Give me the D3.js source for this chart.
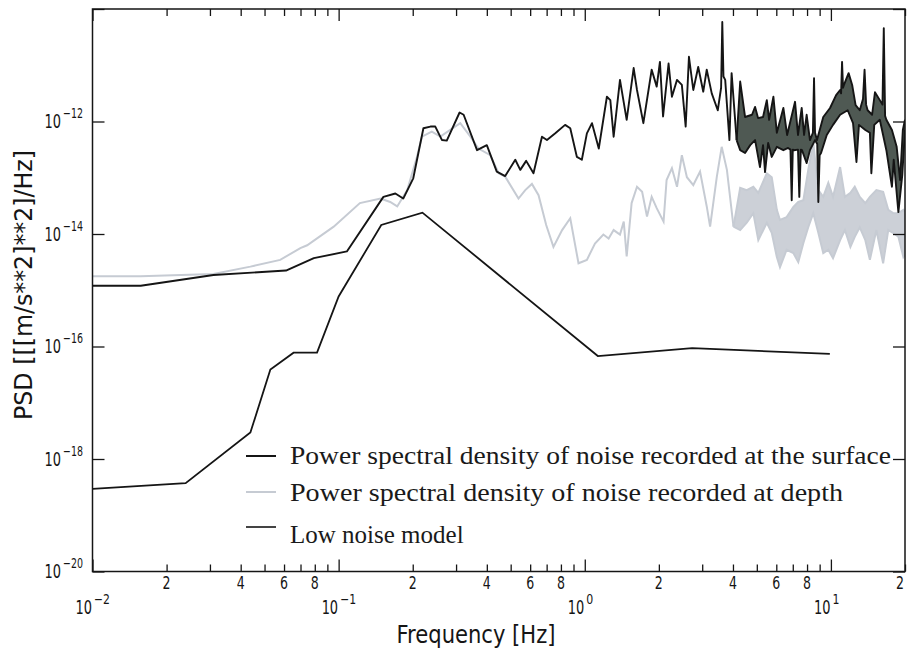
<!DOCTYPE html>
<html><head><meta charset="utf-8">
<script src="https://cdn.jsdelivr.net/npm/d3@7"></script>
<style>body{margin:0;background:#fff}svg{display:block}</style>
</head><body><svg id="c" width="907" height="654"></svg>
<script>
// data: [frequency Hz, log10 PSD]
const lowNoiseModel = [[0.01,-18.53],[0.0239,-18.43],[0.0438,-17.53],[0.0528,-16.41],[0.0656,-16.11],[0.0817,-16.11],[0.1,-15.11],[0.149,-13.84],[0.219,-13.62],[1.13,-16.17],[2.73,-16.03],[9.9,-16.13]];

const surfacePSD = [[0.01,-14.92],[0.0157,-14.92],[0.031,-14.73],[0.0611,-14.65],[0.0793,-14.43],[0.108,-14.31],[0.152,-13.34],[0.170,-13.28],[0.183,-13.37],[0.201,-13.01],[0.221,-12.12],[0.236,-12.09],[0.247,-12.09],[0.263,-12.33],[0.275,-12.34],[0.310,-11.84],[0.322,-11.88],[0.365,-12.51],[0.400,-12.42],[0.439,-12.89],[0.475,-12.97],[0.522,-12.68],[0.547,-12.86],[0.578,-12.70],[0.619,-12.92],[0.670,-12.27],[0.702,-12.33],[0.759,-12.21],[0.832,-12.06],[0.873,-12.12],[0.929,-12.63],[0.973,-12.68],[1.02,-12.21],[1.07,-12.03],[1.14,-12.48],[1.23,-11.56],[1.27,-11.62],[1.31,-12.27],[1.39,-11.26],[1.48,-11.97],[1.58,-11.05],[1.63,-11.44],[1.73,-12.03],[1.87,-11.08],[1.96,-11.38],[2.02,-10.94],[2.08,-11.91],[2.19,-10.97],[2.26,-11.56],[2.37,-11.26],[2.48,-11.35],[2.57,-12.09],[2.65,-10.85],[2.76,-11.44],[2.89,-11.03],[3.03,-11.47],[3.13,-11.08],[3.28,-11.50],[3.47,-11.80],[3.58,-11.4],[3.62,-10.23],[3.66,-11.2],[3.72,-11.26],[3.87,-12.33],[3.95,-11.14],[4.14,-12.33]];
const surfaceUpper = [[4.14,-12.33],[4.28,-11.29],[4.48,-11.92],[4.78,-11.88],[4.92,-11.74],[5.06,-11.94],[5.30,-11.92],[5.49,-11.62],[5.61,-11.97],[5.84,-11.56],[6.03,-12.20],[6.41,-11.76],[6.64,-12.24],[7.15,-11.65],[7.35,-12.24],[7.61,-11.76],[7.78,-12.24],[7.97,-11.88],[8.22,-12.33],[8.45,-12.2],[8.54,-11.23],[8.62,-12.2],[8.78,-12.33],[9.31,-11.92],[9.92,-11.76],[10.5,-11.53],[10.9,-11.44],[11.0,-11.5],[11.1,-10.94],[11.2,-11.4],[11.3,-11.35],[11.8,-11.14],[12.2,-11.35],[12.6,-11.71],[13.1,-11.80],[13.5,-11.6],[13.7,-11.08],[13.9,-11.7],[14.1,-11.80],[14.7,-11.88],[15.1,-11.48],[15.8,-11.62],[16.2,-11.7],[16.4,-10.34],[16.6,-11.9],[16.8,-11.97],[17.7,-12.15],[18.5,-12.45],[19.1,-13.04],[19.6,-12.15],[20,-11.97]];
const surfaceLower = [[4.14,-12.33],[4.28,-12.51],[4.48,-12.56],[4.70,-12.42],[4.92,-12.33],[5.15,-12.81],[5.30,-12.42],[5.40,-12.90],[5.56,-12.38],[5.75,-12.63],[6.03,-12.45],[6.41,-12.51],[6.70,-12.47],[6.85,-12.5],[6.93,-13.40],[7.0,-12.5],[7.08,-12.51],[7.35,-12.5],[7.44,-13.34],[7.55,-12.5],[7.63,-12.51],[7.97,-12.74],[8.22,-12.51],[8.62,-12.33],[8.80,-12.4],[8.89,-13.43],[9.0,-12.6],[9.12,-12.56],[9.62,-12.24],[10.2,-12.06],[10.9,-11.88],[11.7,-11.80],[12.3,-12.03],[12.7,-12.72],[13.0,-12.06],[13.8,-12.15],[14.4,-12.2],[14.6,-12.92],[15.0,-12.06],[15.8,-11.97],[16.8,-12.51],[17.7,-13.16],[18.0,-12.68],[18.8,-13.61],[19.5,-12.95],[20,-12.15]];

const depthPSD = [[0.01,-14.75],[0.0157,-14.75],[0.031,-14.71],[0.0438,-14.58],[0.0579,-14.46],[0.0699,-14.25],[0.0745,-14.20],[0.0955,-13.87],[0.122,-13.45],[0.148,-13.37],[0.162,-13.43],[0.173,-13.51],[0.190,-13.22],[0.208,-12.63],[0.218,-12.27],[0.239,-12.18],[0.259,-12.27],[0.284,-12.15],[0.312,-12.03],[0.343,-12.27],[0.370,-12.48],[0.413,-12.60],[0.447,-12.92],[0.475,-12.98],[0.538,-13.37],[0.573,-13.22],[0.610,-13.11],[0.649,-13.31],[0.697,-13.84],[0.746,-14.23],[0.809,-13.93],[0.873,-13.72],[0.943,-14.52],[1.02,-14.46],[1.10,-14.17],[1.19,-14.01],[1.25,-14.08],[1.31,-13.93],[1.39,-14.01],[1.44,-13.78],[1.48,-14.40],[1.55,-13.45],[1.63,-13.16],[1.71,-13.25],[1.79,-13.69],[1.87,-13.34],[1.96,-13.54],[2.09,-13.78],[2.15,-13.04],[2.26,-12.83],[2.37,-13.16],[2.48,-12.60],[2.60,-12.99],[2.76,-13.13],[2.94,-12.89],[3.13,-13.51],[3.23,-13.87],[3.44,-12.98],[3.60,-12.45],[3.78,-12.86],[4.02,-13.87]];
const depthUpper = [[4.02,-13.87],[4.28,-13.18],[4.55,-13.22],[4.84,-13.16],[5.07,-13.27],[5.49,-12.92],[5.75,-12.99],[6.03,-13.57],[6.21,-13.75],[6.61,-13.70],[7.04,-13.52],[7.37,-13.43],[7.73,-13.40],[8.09,-12.86],[8.48,-12.38],[8.89,-13.22],[9.31,-13.34],[9.76,-13.09],[10.2,-13.34],[10.9,-12.81],[11.4,-13.34],[12.0,-13.27],[12.5,-13.16],[13.1,-13.34],[13.8,-13.45],[14.4,-13.34],[15.3,-13.22],[16.3,-13.25],[17.1,-13.57],[17.9,-13.63],[18.8,-13.63],[19.7,-13.57],[20,-13.61]];
const depthLower = [[4.02,-13.87],[4.28,-13.93],[4.55,-13.80],[4.84,-13.63],[5.07,-14.11],[5.49,-13.80],[5.75,-13.98],[6.03,-14.41],[6.21,-14.59],[6.61,-14.28],[7.04,-14.34],[7.37,-14.50],[7.73,-14.16],[8.09,-13.88],[8.48,-13.63],[8.89,-13.98],[9.31,-14.34],[9.76,-14.28],[10.2,-14.43],[10.9,-14.11],[11.4,-13.93],[12.0,-14.23],[12.5,-14.05],[13.1,-13.88],[13.8,-14.11],[14.4,-14.46],[15.3,-13.93],[16.3,-14.52],[17.1,-13.93],[17.9,-13.98],[18.8,-14.05],[19.7,-14.41],[20,-14.37]];

const yTickExponents = [-20,-18,-16,-14,-12,-10];
const yLabelExponents = [-20,-18,-16,-14,-12];
const xDecades = [-2,-1,0,1];
const xMinorLabels = [2,4,6,8];
const legendLabels = ["Power spectral density of noise recorded at the surface","Power spectral density of noise recorded at depth","Low noise model"];
const xTitle = "Frequency [Hz]";
const yTitle = "PSD [[[m/s**2]**2]/Hz]";

const svg = d3.select("#c");
const L=92.5, R=905, T=9, B=571.5;
const x = d3.scaleLog().domain([0.01,20]).range([L,R]);
const y = d3.scaleLog().domain([1e-20,1e-10]).range([B,T]);
const line = d3.line().x(d=>x(d[0])).y(d=>y(Math.pow(10,d[1])));
const sans = '"DejaVu Sans","Liberation Sans",sans-serif';
const ink = "#151515";

svg.append("clipPath").attr("id","clip").append("rect").attr("x",L).attr("y",T).attr("width",R-L).attr("height",B-T);
const g = svg.append("g").attr("clip-path","url(#clip)");

const depthCol = "#c6cbd3";
g.append("path").attr("d", line(depthUpper.concat(depthLower.slice().reverse()))+"Z").attr("fill","#ccd0d7");
[depthPSD, depthUpper, depthLower].forEach(s=>g.append("path").attr("d", line(s)).attr("fill","none").attr("stroke",depthCol).attr("stroke-width",2));
g.append("path").attr("d", line(surfaceUpper.concat(surfaceLower.slice().reverse()))+"Z").attr("fill","#4f5953");
[surfacePSD, surfaceUpper, surfaceLower].forEach(s=>g.append("path").attr("d", line(s)).attr("fill","none").attr("stroke",ink).attr("stroke-width",1.9).attr("stroke-linejoin","round"));
g.append("path").attr("d", line(lowNoiseModel)).attr("fill","none").attr("stroke",ink).attr("stroke-width",1.8);

// ticks
const majorX = xDecades.map(k=>Math.pow(10,k));
const minorX = [];
xDecades.forEach(k=>{for(let i=2;i<=9;i++){const v=i*Math.pow(10,k); if(v<=20.001) minorX.push(v);}});
function styleAxis(sel){sel.select(".domain").remove(); sel.selectAll("text").remove(); sel.selectAll("line").attr("stroke",ink).attr("stroke-width",1.3);}
svg.append("g").attr("transform",`translate(0,${B})`).call(d3.axisBottom(x).tickValues(majorX).tickSize(-12)).call(styleAxis);
svg.append("g").attr("transform",`translate(0,${B})`).call(d3.axisBottom(x).tickValues(minorX).tickSize(-7)).call(styleAxis);
svg.append("g").attr("transform",`translate(0,${T})`).call(d3.axisTop(x).tickValues(majorX).tickSize(-12)).call(styleAxis);
svg.append("g").attr("transform",`translate(0,${T})`).call(d3.axisTop(x).tickValues(minorX).tickSize(-7)).call(styleAxis);
const yt = yTickExponents.map(k=>Math.pow(10,k));
svg.append("g").attr("transform",`translate(${L},0)`).call(d3.axisLeft(y).tickValues(yt).tickSize(-12)).call(styleAxis);
svg.append("g").attr("transform",`translate(${R},0)`).call(d3.axisRight(y).tickValues(yt).tickSize(-12)).call(styleAxis);
svg.append("rect").attr("x",L).attr("y",T).attr("width",R-L).attr("height",B-T).attr("fill","none").attr("stroke",ink).attr("stroke-width",1.5);

function txt(xp, yp, s, size, len, anchor){
  return svg.append("text").attr("x",xp).attr("y",yp).attr("text-anchor",anchor||"start")
    .attr("font-family",sans).attr("font-size",size).attr("fill",ink)
    .attr("textLength",len).attr("lengthAdjust","spacingAndGlyphs").text(s);
}
// power-of-ten label as one text element: "10" + raised exponent
function pow10(xStart, yBase, k, supLen){
  const t = svg.append("text").attr("x",xStart).attr("y",yBase).attr("font-family",sans).attr("fill",ink);
  t.append("tspan").attr("font-size",19).attr("textLength",16.5).attr("lengthAdjust","spacingAndGlyphs").text("10");
  t.append("tspan").attr("font-size",14).attr("dx",2).attr("dy",-10).attr("textLength",supLen).attr("lengthAdjust","spacingAndGlyphs")
    .text(k<0 ? "\u2212"+Math.abs(k) : String(k));
  return t;
}
// y tick labels
yLabelExponents.forEach(k=>pow10(44.5, y(Math.pow(10,k))+6.5, k, 20));
// x minor labels
xDecades.forEach(k=>xMinorLabels.forEach(m=>{
  const v = m*Math.pow(10,k); if(v>20.001) return;
  txt(Math.min(x(v), 900), 589, String(m), 17, 8, "middle");
}));
// x decade labels
xDecades.forEach(k=>pow10(x(Math.pow(10,k))-17, 614, k, k<0?16:7));
// titles
txt(476, 643, xTitle, 25, 159, "middle");
svg.append("text").attr("transform","translate(32,285) rotate(-90)").attr("text-anchor","middle")
  .attr("font-family",sans).attr("font-size",25).attr("fill",ink)
  .attr("textLength",270).attr("lengthAdjust","spacingAndGlyphs").text(yTitle);

// legend
const legY = [456,492,527], legTextY=[464,501,543], legLen=[601,553,null];
const legStyle = [{c:ink,w:2},{c:depthCol,w:2},{c:ink,w:1.6}];
legendLabels.forEach((s,i)=>{
  svg.append("line").attr("x1",246).attr("x2",276).attr("y1",legY[i]).attr("y2",legY[i]).attr("stroke",legStyle[i].c).attr("stroke-width",legStyle[i].w);
  const t = svg.append("text").attr("x",290).attr("y",legTextY[i]).attr("font-family",'"Liberation Serif","Times New Roman",serif')
    .attr("font-size",25).attr("fill","#1a1a1a").text(s);
  if(legLen[i]) t.attr("textLength",legLen[i]).attr("lengthAdjust","spacingAndGlyphs");
});
</script></body></html>
